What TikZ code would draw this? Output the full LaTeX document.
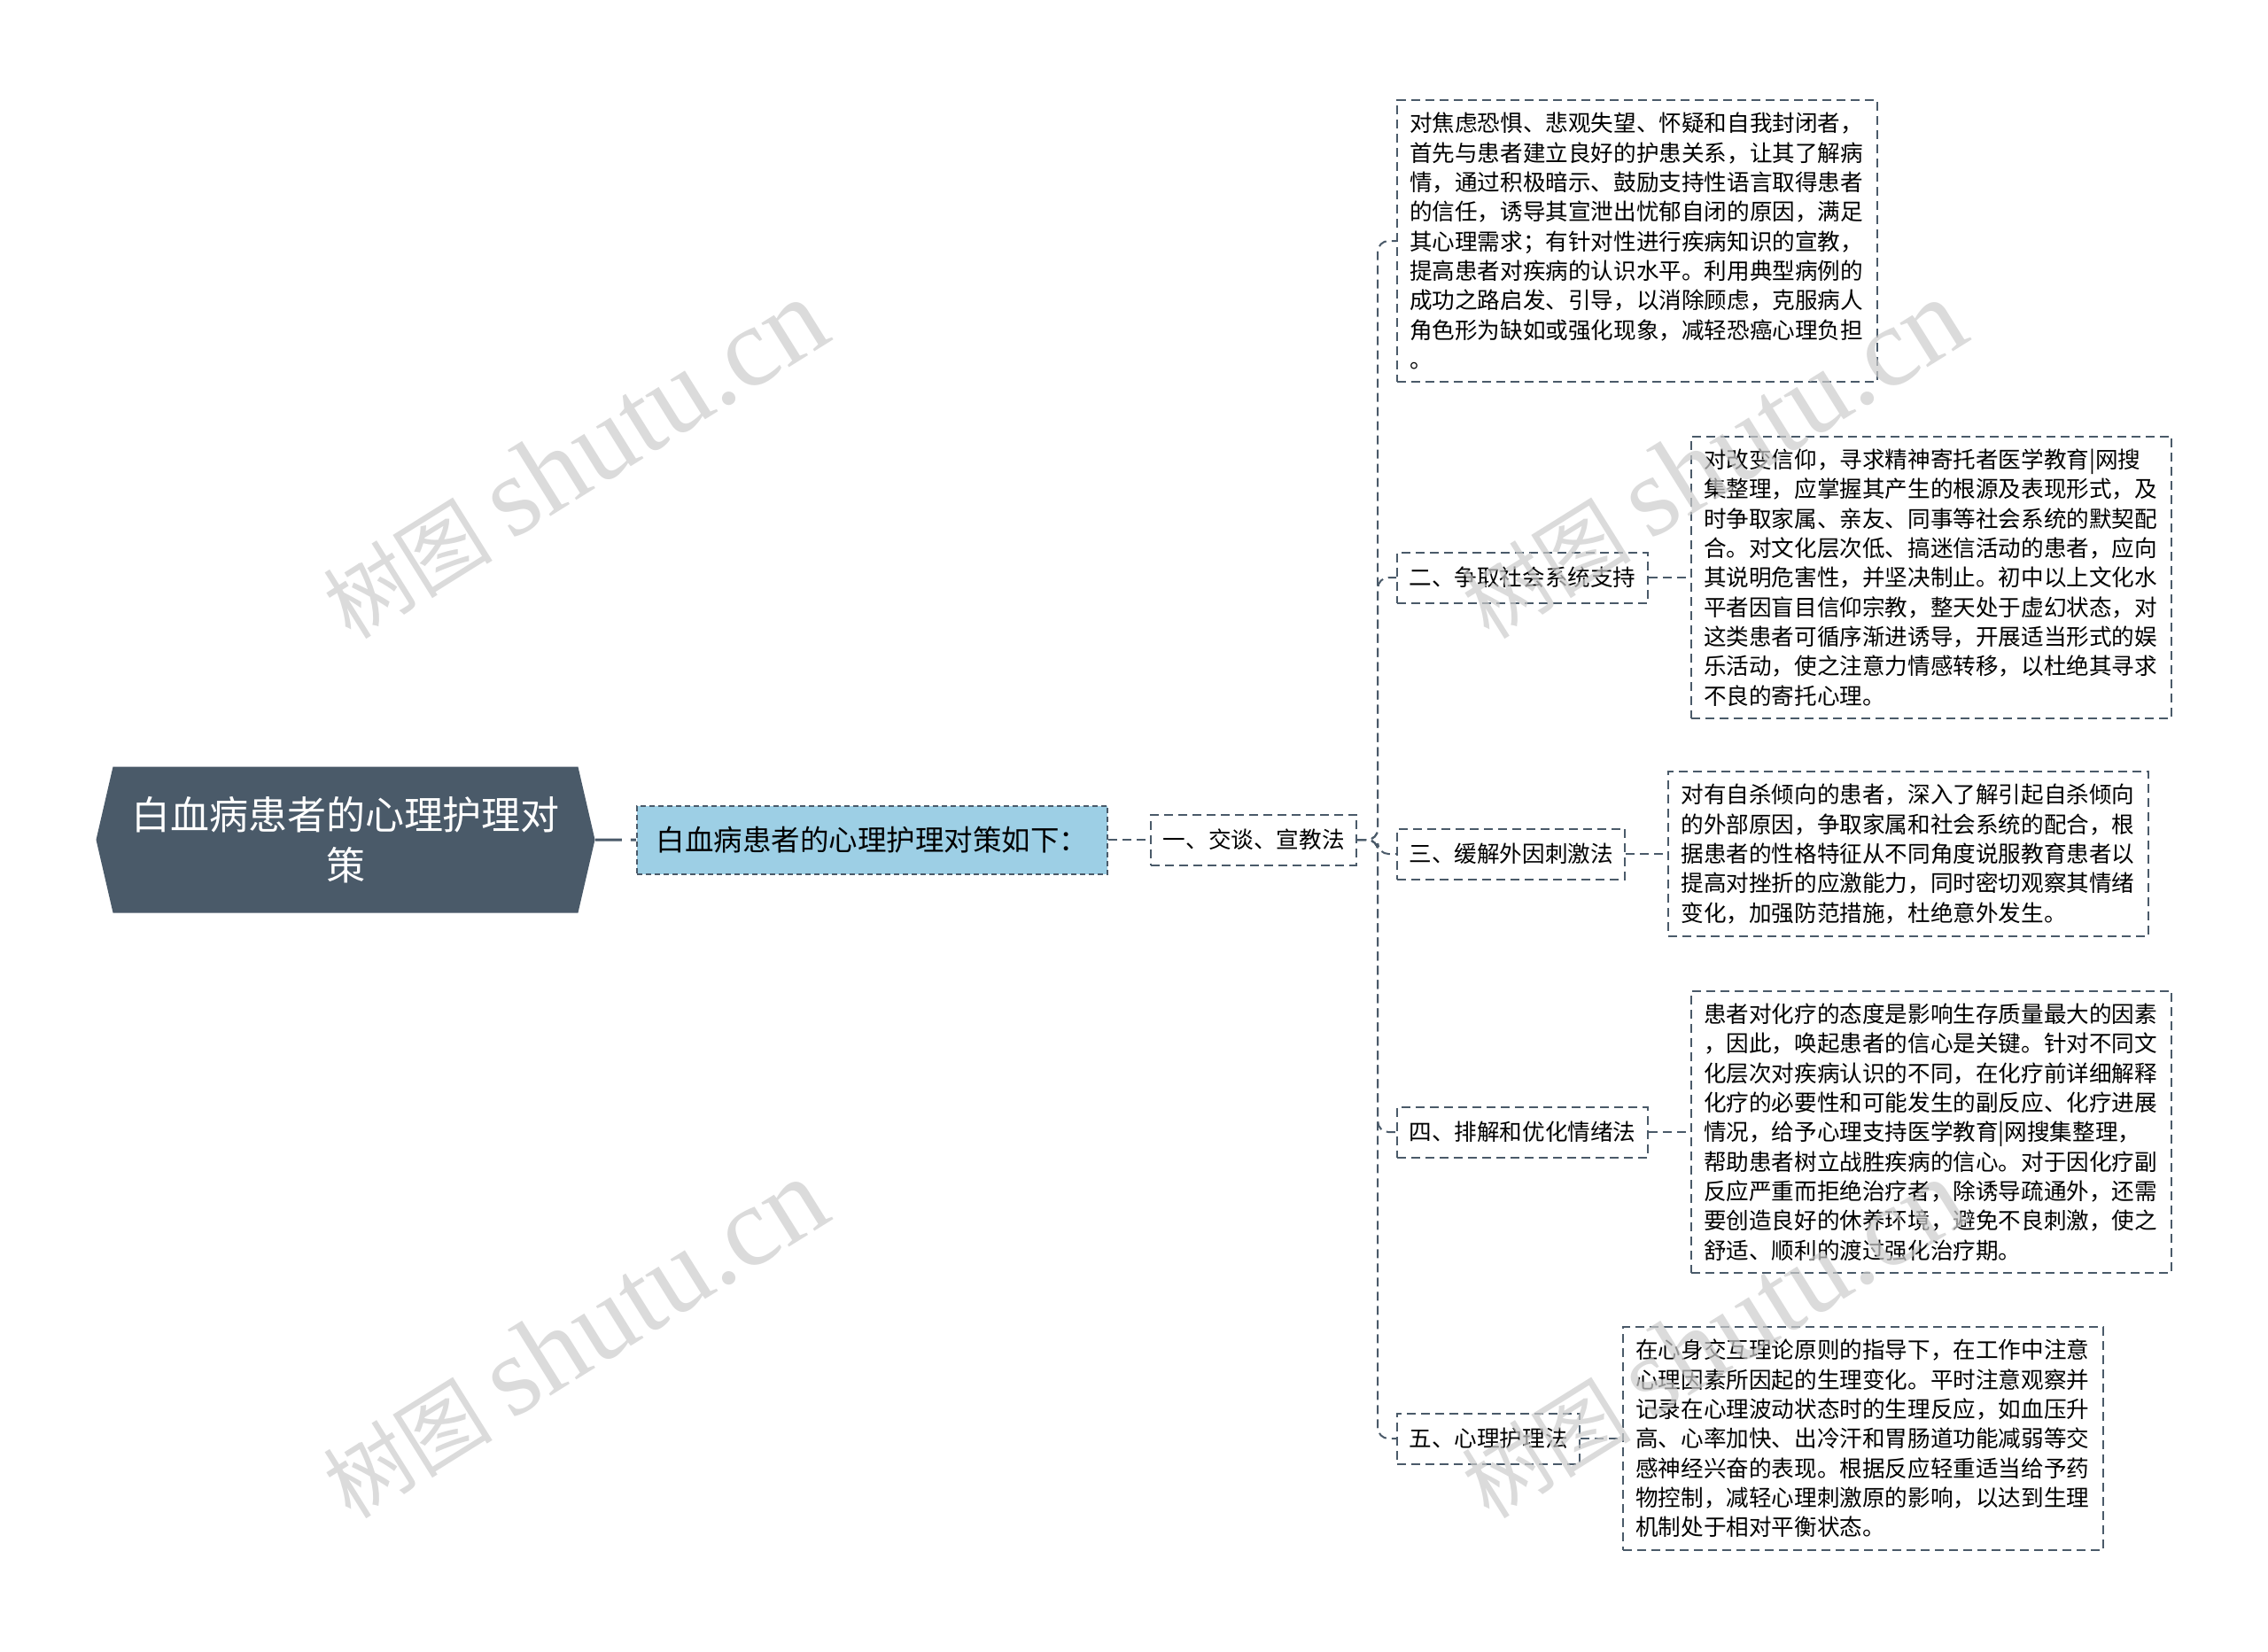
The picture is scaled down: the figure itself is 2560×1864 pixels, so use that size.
\documentclass[tikz,border=0pt]{standalone}
\usepackage{fontspec}
\setmainfont{Noto Sans CJK SC}
\newfontfamily\wmlatin{Liberation Serif}
\usepackage{tikz}
\usetikzlibrary{positioning}
\usetikzlibrary{shapes.symbols}
\definecolor{slate}{RGB}{74,90,105}
\definecolor{skyfill}{RGB}{157,207,229}
\tikzstyle{rootbox} = [signal, signal to=west and east, signal pointer angle=154, minimum width=281.5pt, minimum height=82.5pt, inner sep=0pt, fill=slate, text=white, align=center, font=\fontsize{22pt}{28.5pt}\selectfont]
\tikzstyle{subbox} = [rectangle, minimum height=38.5pt, inner xsep=11pt, draw=slate, line width=1pt, dash pattern=on 3pt off 2pt, fill=skyfill, font=\fontsize{16.25pt}{20pt}\selectfont]
\tikzstyle{headbox} = [rectangle, minimum height=28.5pt, inner xsep=6.75pt, draw=slate, line width=1pt, dash pattern=on 5pt off 3pt, font=\fontsize{12.8pt}{16.67pt}\selectfont]
\tikzstyle{textbox} = [rectangle, text width=257pt, inner xsep=7pt, inner ysep=7pt, align=left, draw=slate, line width=1pt, dash pattern=on 5pt off 3pt, font=\fontsize{12.8pt}{16.67pt}\selectfont]
\tikzstyle{link} = [draw=slate, line width=1pt, dash pattern=on 5pt off 3pt, rounded corners=6pt]
\tikzstyle{wm} = [text=black!20, text opacity=0.7, font=\fontsize{48pt}{52pt}\selectfont]
\newcommand{\wmtext}{树图 {\wmlatin\fontsize{64pt}{66pt}\selectfont shutu.cn}}

\begin{document}
\begin{tikzpicture}[x=0.5pt, y=-0.5pt]
\fill[white] (0,0) rectangle (2560,1864);
\useasboundingbox (0,0) rectangle (2560,1864);

\node (root) [rootbox] at (390,948) {白血病患者的心理护理对\\策};
\node (sub) [subbox, right=23pt of root] {白血病患者的心理护理对策如下：};
\node (n1) [headbox, right=23.5pt of sub] {一、交谈、宣教法};

\node (d1) [textbox, anchor=west] at (1576,272) {对焦虑恐惧、悲观失望、怀疑和自我封闭者，\\首先与患者建立良好的护患关系，让其了解病\\情，通过积极暗示、鼓励支持性语言取得患者\\的信任，诱导其宣泄出忧郁自闭的原因，满足\\其心理需求；有针对性进行疾病知识的宣教，\\提高患者对疾病的认识水平。利用典型病例的\\成功之路启发、引导，以消除顾虑，克服病人\\角色形为缺如或强化现象，减轻恐癌心理负担\\。};

\node (h2) [headbox, anchor=west] at (1576,652) {二、争取社会系统支持};
\node (h3) [headbox, anchor=west] at (1576,964) {三、缓解外因刺激法};
\node (h4) [headbox, anchor=west] at (1576,1278) {四、排解和优化情绪法};
\node (h5) [headbox, anchor=west] at (1576,1624) {五、心理护理法};

\node (d2) [textbox, right=23.5pt of h2] {对改变信仰，寻求精神寄托者医学教育|网搜\\集整理，应掌握其产生的根源及表现形式，及\\时争取家属、亲友、同事等社会系统的默契配\\合。对文化层次低、搞迷信活动的患者，应向\\其说明危害性，并坚决制止。初中以上文化水\\平者因盲目信仰宗教，整天处于虚幻状态，对\\这类患者可循序渐进诱导，开展适当形式的娱\\乐活动，使之注意力情感转移，以杜绝其寻求\\不良的寄托心理。};
\node (d3) [textbox, right=23.5pt of h3] {对有自杀倾向的患者，深入了解引起自杀倾向\\的外部原因，争取家属和社会系统的配合，根\\据患者的性格特征从不同角度说服教育患者以\\提高对挫折的应激能力，同时密切观察其情绪\\变化，加强防范措施，杜绝意外发生。};
\node (d4) [textbox, right=23.5pt of h4] {患者对化疗的态度是影响生存质量最大的因素\\，因此，唤起患者的信心是关键。针对不同文\\化层次对疾病认识的不同，在化疗前详细解释\\化疗的必要性和可能发生的副反应、化疗进展\\情况，给予心理支持医学教育|网搜集整理，\\帮助患者树立战胜疾病的信心。对于因化疗副\\反应严重而拒绝治疗者，除诱导疏通外，还需\\要创造良好的休养环境，避免不良刺激，使之\\舒适、顺利的渡过强化治疗期。};
\node (d5) [textbox, right=23.5pt of h5] {在心身交互理论原则的指导下，在工作中注意\\心理因素所因起的生理变化。平时注意观察并\\记录在心理波动状态时的生理反应，如血压升\\高、心率加快、出冷汗和胃肠道功能减弱等交\\感神经兴奋的表现。根据反应轻重适当给予药\\物控制，减轻心理刺激原的影响，以达到生理\\机制处于相对平衡状态。};

% connectors
\draw [link, line width=1.5pt, dash pattern=on 15pt off 5pt] (root) -- (sub);
\draw [link] (sub) -- (n1);
\foreach \k in {d1,h2,h3,h4,h5}
  \draw [link] (n1.east) -- ([xshift=11.5pt]n1.east) |- (\k.west);
\foreach \k in {2,3,4,5}
  \draw [link] (h\k) -- (d\k);

% watermarks
\node (wm1) [wm, rotate=32] at (648,519) {\wmtext};
\node (wm2) [wm, rotate=32] at (1933,519) {\wmtext};
\node (wm3) [wm, rotate=32] at (648,1512) {\wmtext};
\node (wm4) [wm, rotate=32] at (1933,1512) {\wmtext};
\end{tikzpicture}
\end{document}
